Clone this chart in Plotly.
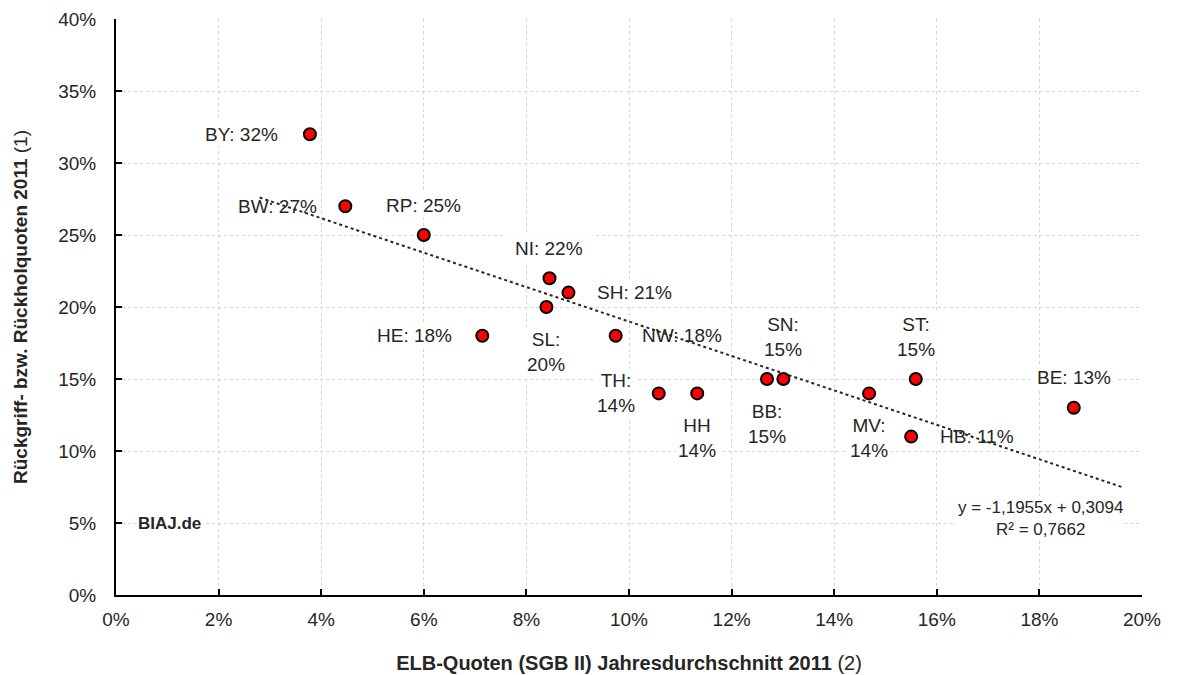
import plotly.graph_objects as go

# Bundesländer, ELB-Quote (x) und Rückgriff-/Rückholquote (y), 2011
laender = ["BY", "BW", "RP", "NI", "SH", "HE", "SL", "NW",
           "TH", "HH", "SN", "BB", "ST", "MV", "HB", "BE"]
elb_quote = [0.0378, 0.0447, 0.0600, 0.0845, 0.0882, 0.0714, 0.0839, 0.0974,
             0.1058, 0.1133, 0.1301, 0.1269, 0.1559, 0.1468, 0.1550, 0.1867]
rueck_quote = [0.32, 0.27, 0.25, 0.22, 0.21, 0.18, 0.20, 0.18,
               0.14, 0.14, 0.15, 0.15, 0.15, 0.14, 0.11, 0.13]
label_text = ["BY: 32%", "BW: 27%", "RP: 25%", "NI: 22%", "SH: 21%", "HE: 18%",
              "SL:<br>20%", "NW: 18%", "TH:<br>14%", "HH<br>14%", "SN:<br>15%",
              "BB:<br>15%", "ST:<br>15%", "MV:<br>14%", "HB: 11%", "BE: 13%"]
label_pos = ["left", "left", "above", "above", "right", "left", "below", "right",
             "left", "below", "above", "below", "above", "below", "right", "above"]

trend_x = [0.028, 0.1965]
trend_y = [0.276, 0.0745]
trend_text = "y = -1,1955x + 0,3094<br>R² = 0,7662"

x_ticks = [0, 0.02, 0.04, 0.06, 0.08, 0.10, 0.12, 0.14, 0.16, 0.18, 0.20]
y_ticks = [0, 0.05, 0.10, 0.15, 0.20, 0.25, 0.30, 0.35, 0.40]

FONT = "Liberation Sans, Arial, sans-serif"
TXT = "#262626"

fig = go.Figure()

fig.add_trace(go.Scatter(x=trend_x, y=trend_y, mode="lines",
                         line=dict(color=TXT, width=2, dash="dot"),
                         hoverinfo="skip", showlegend=False))
fig.add_trace(go.Scatter(x=elb_quote, y=rueck_quote, mode="markers",
                         marker=dict(size=12, color="#ff0000",
                                     line=dict(color="black", width=2)),
                         text=laender, showlegend=False))

shifts = {"left": (-68, 0), "right": (66, 0), "above": (0, 30), "below": (0, -45)}
annotations = []
shapes = []
for xv, yv, txt, pos in zip(elb_quote, rueck_quote, label_text, label_pos):
    lines = txt.split("<br>")
    dx, dy = shifts[pos]
    if pos == "above" and len(lines) > 1:
        dy = 42
    if pos == "left" and len(lines) > 1:
        dx = -43
    annotations.append(dict(x=xv, y=yv, xref="x", yref="y", text=txt, showarrow=False,
                            xshift=dx, yshift=dy, font=dict(size=19, color=TXT, family=FONT)))
    w = 11 * max(len(l) for l in lines) + 10
    h = 24 * len(lines) + 2
    shapes.append(dict(type="rect", xref="x", yref="y", xsizemode="pixel", ysizemode="pixel",
                       xanchor=xv, yanchor=yv, x0=dx - w / 2, x1=dx + w / 2,
                       y0=dy - h / 2, y1=dy + h / 2, fillcolor="white",
                       line=dict(width=0), layer="between"))

annotations.append(dict(x=0.1803, y=0.053, xref="x", yref="y", text=trend_text,
                        showarrow=False, bgcolor="white",
                        font=dict(size=17, color=TXT, family=FONT)))
annotations.append(dict(x=0.0105, y=0.05, xref="x", yref="y", text="<b>BIAJ.de</b>",
                        showarrow=False, bgcolor="white",
                        font=dict(size=17, color=TXT, family=FONT)))

axis_style = dict(showline=True, linecolor="black", linewidth=2, ticks="inside",
                  ticklen=6, tickwidth=2, tickcolor="black", showgrid=True,
                  gridcolor="#d4d4d4", gridwidth=1, griddash="dot", zeroline=False,
                  automargin=False, tickformat=".0%",
                  tickfont=dict(size=19, color=TXT, family=FONT))

fig.update_layout(
    width=1181, height=675,
    margin=dict(l=108, r=47, t=11, b=88),
    paper_bgcolor="white", plot_bgcolor="white",
    font=dict(family=FONT, color=TXT),
    xaxis=dict(range=[0, 0.2], tickvals=x_ticks, ticklabelstandoff=6,
               title=dict(text="<b>ELB-Quoten (SGB II) Jahresdurchschnitt 2011</b> (2)",
                          font=dict(size=20, color=TXT, family=FONT), standoff=27),
               **axis_style),
    yaxis=dict(range=[0, 0.4], tickvals=y_ticks, ticklabelstandoff=14,
               title=dict(text="<b>Rückgriff- bzw. Rückholquoten 2011</b> (1)",
                          font=dict(size=19, color=TXT, family=FONT), standoff=26),
               **axis_style),
    annotations=annotations,
    shapes=shapes,
)

fig.write_html("out.html")
